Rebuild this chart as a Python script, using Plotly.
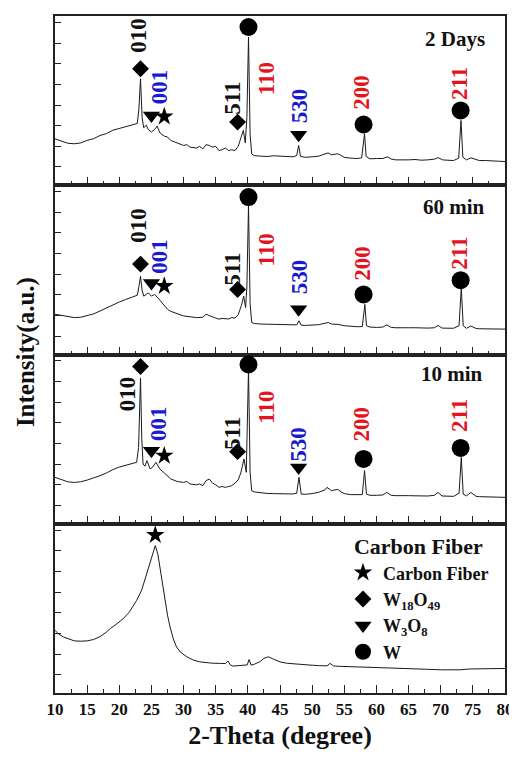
import plotly.graph_objects as go
from plotly.subplots import make_subplots

# ---------------- data (relative intensity, % of panel height) ----------------
x_2days = [10.0, 11.0, 12.0, 13.0, 14.0, 15.0, 16.0, 17.0, 18.0, 19.0, 20.0, 21.0, 22.0, 22.8,
           23.05, 23.3, 23.55, 23.8, 24.2, 24.5, 25.0, 25.5, 25.9, 26.3, 27.0, 27.5, 28.0, 29.0,
           30.0, 30.5, 31.0, 32.0, 32.5, 33.0, 33.5, 34.0, 34.5, 35.0, 35.5, 36.0, 36.5, 37.0,
           37.5, 38.0, 38.5, 39.0, 39.3, 39.6, 39.85, 40.1, 40.35, 40.6, 41.0, 42.0, 43.0, 44.0,
           45.0, 46.0, 47.0, 47.6, 47.9, 48.2, 49.0, 50.0, 51.0, 52.0, 52.5, 53.0, 54.0, 54.5,
           55.0, 56.0, 57.0, 57.7, 58.0, 58.15, 58.4, 59.0, 60.0, 61.0, 61.7, 62.3, 63.0, 64.0,
           65.0, 66.0, 67.0, 68.0, 69.0, 69.6, 70.3, 71.0, 72.0, 72.8, 73.15, 73.45, 74.0, 74.7,
           75.5, 76.0, 77.0, 78.0, 79.0, 80.0]
y_2days = [27.4, 26.0, 24.8, 24.5, 25.0, 26.5, 27.5, 29.4, 30.5, 32.5, 33.5, 34.5, 35.3, 36.5,
           45.0, 62.9, 40.0, 34.0, 35.5, 33.0, 31.4, 33.0, 35.0, 31.0, 29.0, 28.5, 26.5, 25.0,
           23.5, 24.0, 22.5, 22.0, 23.0, 21.5, 24.0, 23.5, 22.5, 23.0, 20.5, 21.0, 22.0, 20.5,
           21.0, 20.5, 23.0, 29.0, 32.4, 25.0, 40.0, 87.6, 30.0, 18.5, 17.5, 17.2, 17.0, 17.4,
           17.2, 17.0, 16.8, 17.5, 23.5, 17.0, 16.5, 16.8, 17.2, 18.5, 19.1, 18.0, 18.6, 17.6,
           16.5, 16.0, 15.8, 16.2, 27.0, 30.4, 17.0, 15.6, 15.8, 15.8, 16.8, 15.5, 15.0, 14.8,
           15.0, 15.2, 14.8, 15.0, 15.4, 16.3, 15.0, 14.8, 14.6, 16.0, 38.3, 16.5, 15.0, 16.2,
           15.0, 14.6, 14.6, 14.2, 14.2, 14.0]

x_60min = [10.0, 11.0, 12.0, 13.0, 14.0, 15.0, 16.0, 17.0, 18.0, 19.0, 20.0, 21.0, 22.0, 22.8,
           23.05, 23.3, 23.55, 23.8, 24.2, 24.5, 25.0, 25.5, 26.0, 26.5, 27.0, 27.5, 28.0, 29.0,
           30.0, 31.0, 32.0, 33.0, 33.5, 34.0, 34.5, 35.0, 35.5, 36.0, 37.0, 37.5, 38.0, 38.5,
           39.0, 39.35, 39.65, 39.85, 40.1, 40.35, 40.6, 41.0, 42.0, 43.0, 44.0, 45.0, 46.0, 47.0,
           47.6, 47.95, 48.3, 49.0, 50.0, 51.0, 52.0, 52.5, 53.0, 54.0, 55.0, 56.0, 57.0, 57.8,
           58.0, 58.2, 58.45, 59.0, 60.0, 61.0, 61.6, 62.3, 63.0, 64.0, 65.0, 66.0, 67.0, 68.0,
           69.0, 69.6, 70.2, 71.0, 72.0, 72.85, 73.2, 73.5, 74.0, 74.7, 75.5, 76.0, 77.0, 78.0,
           79.0, 80.0]
y_60min = [23.8, 23.0, 22.3, 21.8, 22.0, 22.8, 24.0, 25.7, 27.5, 29.5, 31.0, 32.5, 34.0, 35.0,
           40.0, 46.2, 38.0, 34.5, 35.5, 36.4, 34.5, 35.5, 33.5, 31.0, 28.5, 26.7, 25.5, 24.0,
           22.8, 22.3, 21.8, 22.0, 23.8, 23.0, 22.0, 21.5, 20.9, 21.3, 21.0, 21.8, 21.5, 23.5,
           29.0, 34.5, 27.7, 40.0, 88.1, 30.0, 18.9, 18.3, 18.0, 17.9, 17.8, 17.6, 17.5, 17.4,
           17.5, 19.9, 17.3, 17.2, 17.3, 17.6, 18.5, 18.9, 18.0, 17.8, 17.0, 16.6, 16.4, 16.5,
           24.0, 29.6, 17.0, 16.2, 16.0, 16.2, 17.5, 16.0, 15.8, 16.0, 15.8, 15.8, 15.6, 15.6,
           15.8, 17.2, 15.6, 15.6, 15.5, 17.0, 39.4, 17.0, 15.5, 16.8, 15.4, 15.2, 15.2, 15.0,
           15.0, 15.0]

x_10min = [10.0, 11.0, 12.0, 13.0, 14.0, 15.0, 16.0, 17.0, 18.0, 19.0, 20.0, 21.0, 22.0, 22.7,
           23.0, 23.3, 23.5, 23.7, 24.0, 24.3, 24.8, 25.2, 25.7, 26.3, 27.0, 27.4, 28.0, 29.0,
           30.0, 30.5, 31.0, 32.0, 32.5, 33.0, 33.5, 34.0, 34.5, 35.0, 35.5, 36.0, 36.5, 37.0,
           37.5, 38.0, 38.5, 38.9, 39.4, 39.75, 39.9, 40.1, 40.35, 40.6, 41.0, 42.0, 43.0, 44.0,
           45.0, 46.0, 47.0, 47.6, 47.95, 48.3, 49.0, 50.0, 51.0, 52.0, 52.3, 53.0, 54.0, 54.5,
           55.0, 56.0, 57.0, 57.8, 58.0, 58.15, 58.45, 59.0, 60.0, 61.0, 61.6, 62.3, 63.0, 64.0,
           65.0, 66.0, 67.0, 68.0, 69.0, 69.6, 70.2, 71.0, 72.0, 72.85, 73.2, 73.5, 74.0, 74.7,
           75.5, 76.0, 77.0, 78.0, 79.0, 80.0]
y_10min = [27.4, 26.0, 24.8, 24.4, 24.8, 25.8, 27.0, 28.4, 30.0, 32.0, 33.5, 34.5, 35.5, 36.3,
           45.0, 86.2, 50.0, 35.3, 34.0, 37.3, 32.4, 33.5, 36.3, 32.4, 30.0, 28.4, 26.5, 25.0,
           24.4, 25.0, 23.5, 23.0, 23.5, 22.5, 25.5, 26.4, 24.0, 23.0, 21.5, 22.0, 21.5, 22.0,
           22.5, 24.0, 26.0, 30.0, 38.3, 30.4, 50.0, 91.5, 30.0, 19.5, 18.8, 18.2, 17.9, 17.8,
           17.7, 17.8, 17.6, 18.0, 27.4, 17.5, 17.4, 17.8, 18.6, 20.0, 21.5, 19.6, 20.3, 18.8,
           17.8, 17.2, 17.0, 17.2, 25.0, 31.4, 17.5, 16.8, 16.8, 17.0, 18.5, 16.8, 16.6, 16.8,
           16.6, 16.5, 16.4, 16.4, 16.8, 18.5, 16.4, 16.2, 16.2, 18.0, 39.2, 17.5, 16.5, 18.5,
           16.2, 16.0, 15.8, 15.8, 15.6, 15.6]

x_cf = [10.0, 10.5, 11.3, 12.0, 13.0, 14.0, 15.0, 16.0, 17.0, 18.0, 18.6, 19.5, 20.6, 21.5,
        22.7, 23.5, 24.3, 25.0, 25.6, 26.0, 26.3, 26.7, 27.1, 27.5, 27.9, 28.4, 28.9, 29.5,
        30.5, 31.5, 32.5, 33.5, 34.5, 35.7, 36.5, 36.9, 37.3, 37.7, 38.5, 39.5, 39.9, 40.2,
        40.5, 41.0, 41.9, 42.5, 43.2, 44.0, 45.0, 46.0, 47.0, 48.1, 49.0, 50.0, 51.0, 52.3,
        52.8, 53.3, 54.0, 55.9, 57.0, 58.0, 60.0, 62.0, 63.7, 66.0, 68.0, 70.0, 71.4, 73.0,
        74.5, 76.0, 78.0, 80.0]
y_cf = [37.1, 35.0, 33.1, 32.0, 30.8, 30.6, 30.8, 31.6, 33.3, 36.0, 38.1, 40.5, 43.9, 47.5,
        54.7, 61.0, 70.4, 79.0, 87.1, 82.0, 74.3, 64.0, 54.7, 46.0, 39.0, 32.0, 27.2, 24.2,
        21.4, 19.5, 18.4, 17.9, 17.6, 17.5, 17.4, 18.9, 16.5, 15.9, 16.0, 16.4, 16.6, 19.8,
        16.5, 17.0, 18.5, 20.5, 21.4, 20.0, 18.4, 17.6, 17.2, 16.9, 16.6, 16.4, 16.2, 16.0,
        17.5, 16.0, 15.8, 15.5, 15.3, 15.2, 15.0, 14.7, 14.5, 14.2, 14.0, 13.7, 13.5, 13.7,
        14.2, 14.3, 14.4, 14.5]

panel_names = ["2 Days", "60 min", "10 min", "Carbon Fiber"]

# phase markers on peaks: phase index -> 0 Carbon Fiber, 1 W18O49, 2 W3O8, 3 W
phase_names = ["Carbon Fiber", "W<sub>18</sub>O<sub>49</sub>", "W<sub>3</sub>O<sub>8</sub>", "W"]
mk_phase = [1, 2, 0, 1, 3, 2, 3, 3]
mk_x = [23.3, 25.0, 27.0, 38.4, 40.1, 47.9, 58.0, 73.1]
mk_y_2days = [68.8, 41.2, 40.6, 37.3, 93.5, 29.8, 35.9, 44.2]
mk_y_60min = [53.4, 42.3, 40.4, 38.4, 93.0, 26.7, 35.5, 43.9]
mk_y_10min = [92.9, 43.2, 40.2, 42.6, 94.1, 33.3, 38.3, 44.8]
mk_cf_phase = [0]
mk_cf_x = [25.6]
mk_cf_y = [93.3]

# Miller-index labels
hkl_text = ["010", "001", "511", "110", "530", "200", "211"]
hkl_phase = [1, 2, 1, 3, 2, 3, 3]
hkl_x_2days = [23.0, 26.2, 37.7, 42.9, 47.95, 57.7, 72.9]
hkl_y_2days = [88.6, 58.0, 51.1, 62.9, 47.2, 55.0, 60.0]
hkl_x_60min = [23.0, 26.2, 37.7, 42.9, 47.95, 57.7, 72.9]
hkl_y_60min = [76.4, 57.9, 50.1, 61.8, 46.2, 54.0, 59.8]
hkl_x_10min = [21.4, 26.2, 37.7, 42.9, 47.95, 57.7, 72.9]
hkl_y_10min = [76.7, 59.0, 53.1, 68.8, 47.2, 59.0, 63.9]

x_ticks = list(range(10, 81, 5))

# ---------------- styling ----------------
SERIF = "Liberation Serif"
phase_symbol = ["star", "diamond", "triangle-down", "circle"]
phase_size = [14, 13, 15, 18]
label_color = {1: "#111111", 2: "#1a1ad0", 3: "#e3141e"}

fig = make_subplots(rows=4, cols=1, shared_xaxes=True, vertical_spacing=0)

curves = [(x_2days, y_2days), (x_60min, y_60min), (x_10min, y_10min), (x_cf, y_cf)]
for i, (xs, ys) in enumerate(curves):
    fig.add_trace(go.Scatter(x=xs, y=ys, mode="lines", line=dict(color="#1a1a1a", width=1),
                             showlegend=False, hoverinfo="skip"), row=i + 1, col=1)

marker_sets = [(mk_phase, mk_x, mk_y_2days), (mk_phase, mk_x, mk_y_60min),
               (mk_phase, mk_x, mk_y_10min), (mk_cf_phase, mk_cf_x, mk_cf_y)]
shown = set()
for i, (ph, mx, my) in enumerate(marker_sets):
    for p in range(4):
        xs = [mx[k] for k in range(len(ph)) if ph[k] == p]
        ys = [my[k] for k in range(len(ph)) if ph[k] == p]
        if not xs:
            continue
        fig.add_trace(go.Scatter(
            x=xs, y=ys, mode="markers", name=phase_names[p], legendgroup=phase_names[p],
            legendrank=p + 1, showlegend=(p not in shown),
            marker=dict(symbol=phase_symbol[p], size=phase_size[p], color="black",
                        line=dict(width=0))), row=i + 1, col=1)
        shown.add(p)

label_sets = [(hkl_x_2days, hkl_y_2days), (hkl_x_60min, hkl_y_60min), (hkl_x_10min, hkl_y_10min)]
for i, (lx, ly) in enumerate(label_sets):
    xr = "x" if i == 0 else f"x{i + 1}"
    yr = "y" if i == 0 else f"y{i + 1}"
    for t, ph, xx, yy in zip(hkl_text, hkl_phase, lx, ly):
        fig.add_annotation(x=xx, y=yy, xref=xr, yref=yr, text=t, textangle=-90, showarrow=False,
                           xanchor="center", yanchor="middle",
                           font=dict(family=SERIF, size=23, color=label_color[ph], weight="bold"))

# panel titles
title_pos = [(0.96, 0.866), (0.96, 0.871), (0.956, 0.886)]
for i, (tx, ty) in enumerate(title_pos):
    xr = "x domain" if i == 0 else f"x{i + 1} domain"
    yr = "y domain" if i == 0 else f"y{i + 1} domain"
    fig.add_annotation(x=tx, y=ty, xref=xr, yref=yr, text=panel_names[i], showarrow=False,
                       xanchor="right", yanchor="middle",
                       font=dict(family=SERIF, size=21, color="#111111", weight="bold"))

axis_line = dict(showline=True, mirror=True, linewidth=1.6, linecolor="#222222",
                 showgrid=False, zeroline=False)
for i in range(4):
    fig.update_yaxes(range=[0, 100], showticklabels=False, ticks="inside", ticklen=6,
                     tickwidth=1.2, tickcolor="#222222", tick0=10.8, dtick=12.2,
                     row=i + 1, col=1, **axis_line)
    fig.update_xaxes(range=[10, 80], tickmode="array", tickvals=x_ticks, ticks="inside",
                     ticklen=8, tickwidth=1.2, tickcolor="#222222",
                     minor=dict(ticks="inside", ticklen=4, tickwidth=1.2, tickcolor="#222222",
                                dtick=2.5, tick0=10, showgrid=False),
                     row=i + 1, col=1, **axis_line)

fig.update_xaxes(tickfont=dict(family=SERIF, size=17, color="#111111", weight="bold"),
                 automargin=False,
                 title=dict(text="2-Theta (degree)", standoff=8,
                            font=dict(family=SERIF, size=26, color="#111111", weight="bold")),
                 row=4, col=1)

fig.add_annotation(x=-0.063, y=0.503, xref="paper", yref="paper", text="Intensity(a.u.)",
                   textangle=-90, showarrow=False, xanchor="center", yanchor="middle",
                   font=dict(family=SERIF, size=25, color="#111111", weight="bold"))

# page body has an 8px default margin, so the figure is shifted by 8px right and down
fig.update_layout(
    width=509, height=742, margin=dict(l=47, r=12, t=6, b=57),
    paper_bgcolor="white", plot_bgcolor="white",
    showlegend=True,
    legend=dict(x=0.64, y=0.247, xanchor="left", yanchor="top", bgcolor="rgba(0,0,0,0)",
                title=dict(text="Carbon Fiber", side="top center",
                           font=dict(family=SERIF, size=22, color="#111111", weight="bold")),
                font=dict(family=SERIF, size=18, color="#111111", weight="bold"),
                itemwidth=30, tracegroupgap=0),
)

fig.write_html("out.html")
